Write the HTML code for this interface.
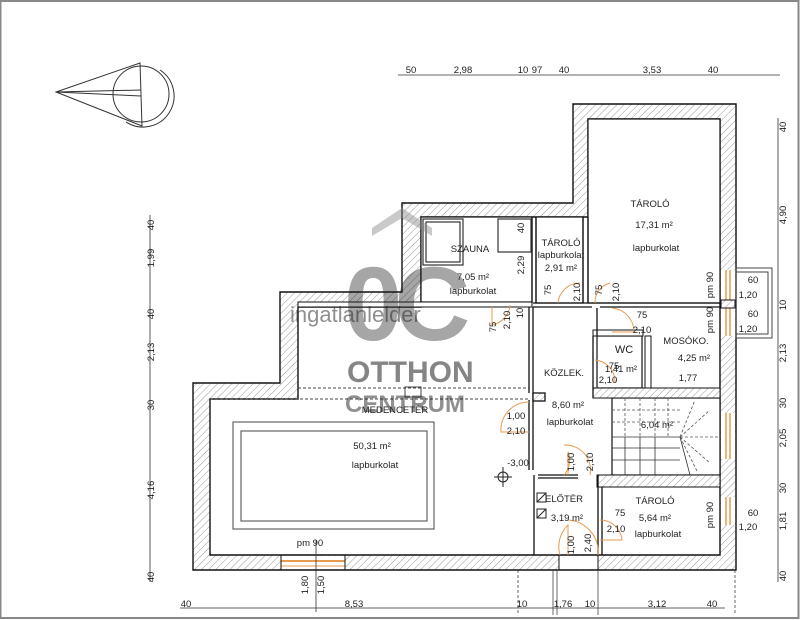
<!DOCTYPE html>
<html><head><meta charset="utf-8"><style>
html,body{margin:0;padding:0;background:#fff}
svg{display:block}
text{font-family:"Liberation Sans",sans-serif;fill:#222}
</style></head><body>
<svg width="800" height="620" viewBox="0 0 800 620" xmlns="http://www.w3.org/2000/svg">
<defs>
<pattern id="h" width="5" height="5" patternUnits="userSpaceOnUse" patternTransform="rotate(45)">
<rect width="5" height="5" fill="#fff"/><line x1="0" y1="0" x2="0" y2="5" stroke="#999" stroke-width="1"/>
</pattern>
</defs>
<rect x="0" y="0" width="800" height="620" fill="#fff"/>
<rect x="0.5" y="1" width="798" height="617" fill="none" stroke="#888" stroke-width="2"/>

<!-- compass -->
<g fill="none" stroke="#333" stroke-width="1">
<path d="M56,92 L140,63 L142,126 Z"/>
<line x1="56" y1="92" x2="141" y2="90"/><line x1="56" y1="92" x2="141" y2="96"/>
<circle cx="141" cy="94" r="28"/>
<path d="M160,70 A30,30 0 1 1 126,122"/>
</g>

<!-- outer walls (hatched) -->
<path fill="url(#h)" stroke="#111" stroke-width="1.4" fill-rule="evenodd"
d="M193,383 L280,383 L280,292 L402,292 L402,203 L573,203 L573,104 L736,104 L736,570 L193,570 Z
   M210,399 L298,399 L298,307 L421,307 L421,217 L588,217 L588,119 L720,119 L720,555 L210,555 Z"/>
<g fill="#fff" stroke="#111" stroke-width="1.2">
<rect x="421" y="217" width="111" height="85"/>
<rect x="536" y="217" width="47" height="86"/>
<rect x="588" y="119" width="132" height="184"/>
<rect x="597" y="336" width="45" height="52"/>
<rect x="612" y="398" width="108" height="77"/>
</g>
<g fill="url(#h)" stroke="#111" stroke-width="1">
<rect x="298" y="302" width="234" height="5" fill="#fff"/>
<rect x="593" y="388" width="127" height="10"/>
<rect x="597" y="475" width="123" height="12"/>
<rect x="593" y="330" width="50" height="6" fill="#fff"/>
<rect x="645" y="336" width="6" height="52" fill="#fff"/>
</g>
<g stroke="#111" stroke-width="1.3" fill="none">
<line x1="532" y1="217" x2="532" y2="303"/><line x1="536" y1="217" x2="536" y2="303"/>
<line x1="583" y1="217" x2="583" y2="303"/><line x1="588" y1="217" x2="588" y2="303"/>
<path d="M529,307 L529,393 M533,307 L533,470 M529,400 L529,470"/>
<rect x="533" y="393" width="12" height="8" fill="url(#h)"/>
<path d="M533,307 L592,307 M600,307 L720,307 M533,303 L720,303"/>
<path d="M593,336 L593,398 M597,308 L597,336"/>
<path d="M534,475 L534,555 M538,475 L578,475 M538,478 L578,478 M598,475 L598,555 M602,487 L602,555"/>
</g>
<rect x="281" y="556" width="64" height="13" fill="#fff"/>
<line x1="281" y1="561" x2="345" y2="561" stroke="#e89a50" stroke-width="2"/>
<line x1="281" y1="566" x2="345" y2="566" stroke="#e89a50" stroke-width="1"/>
<line x1="281" y1="555" x2="281" y2="570" stroke="#111"/><line x1="345" y1="555" x2="345" y2="570" stroke="#111"/>
<rect x="559" y="556" width="39" height="13" fill="#fff"/>
<line x1="559" y1="555" x2="559" y2="570" stroke="#111"/><line x1="598" y1="555" x2="598" y2="570" stroke="#111"/>
<rect x="721" y="270" width="14" height="66" fill="#fff"/>
<rect x="721" y="413" width="14" height="46" fill="#fff"/>
<rect x="721" y="497" width="14" height="28" fill="#fff"/>
<g stroke="#e89a50" stroke-width="1.5">
<line x1="726" y1="270" x2="726" y2="336"/><line x1="730" y1="270" x2="730" y2="336"/>
<line x1="726" y1="413" x2="726" y2="459"/><line x1="730" y1="413" x2="730" y2="459"/>
<line x1="726" y1="497" x2="726" y2="525"/><line x1="730" y1="497" x2="730" y2="525"/>
</g>
<rect x="721" y="300" width="14" height="8" fill="url(#h)" stroke="#111"/>
<g fill="none" stroke="#444" stroke-width="1">
<rect x="736" y="268" width="36" height="70"/><rect x="736" y="272" width="32" height="62"/>
</g>
<g fill="none" stroke="#333" stroke-width="1.2">
<rect x="423" y="219" width="40" height="46"/><rect x="426" y="222" width="34" height="40"/>
<rect x="498" y="219" width="33" height="33"/>
</g>
<g fill="none" stroke="#444" stroke-width="1">
<rect x="233" y="422" width="201" height="107"/><rect x="241" y="431" width="186" height="90"/>
<line x1="298" y1="388" x2="529" y2="388" stroke-dasharray="3,2"/>
<line x1="210" y1="399" x2="529" y2="399" stroke-dasharray="3,2"/>
<rect x="405" y="387" width="16" height="10"/>
</g>
<g stroke="#555" stroke-width="0.8" fill="none">
<path d="M612,437 L680,437 M612,448 L680,448 M612,460 L680,460 M625,437 L625,475 M640,437 L640,475 M655,437 L655,475 M680,437 L690,475" stroke="#333"/>
<path d="M612,410 L680,410 M612,422 L680,422 M625,398 L625,437 M640,398 L640,437 M655,398 L655,437 M668,398 L668,437 M680,437 L710,410 M680,437 L718,437 M680,437 L710,463 M680,437 L695,400 M680,437 L698,473" stroke-dasharray="3,2"/>
</g>
<g fill="none" stroke="#e89a50" stroke-width="1">
<path d="M510,305 A22,22 0 0 1 492,325 L492,307"/>
<path d="M558,303 A22,22 0 0 1 580,283"/>
<path d="M595,303 A20,20 0 0 1 610,283"/>
<path d="M612,308 A24,24 0 0 1 634,332 L612,332"/>
<path d="M595,360 A22,22 0 0 1 615,383"/>
<path d="M529,402 A28,28 0 0 0 501,432 L529,432"/>
<path d="M564,475 A22,22 0 0 0 568,452 L568,475 M590,475 A25,25 0 0 0 564,445"/>
<path d="M600,520 A22,22 0 0 1 622,540 L600,540"/>
<path d="M560,555 A30,30 0 0 1 568,525 L568,555 M598,555 A32,32 0 0 0 568,520"/>
</g>
<g stroke="#444" stroke-width="0.8" fill="none" stroke-dasharray="3,2">
<line x1="518" y1="570" x2="518" y2="615"/><line x1="735" y1="570" x2="735" y2="615"/>
</g>
<g stroke="#444" stroke-width="0.8"><line x1="553" y1="570" x2="553" y2="615"/><line x1="557" y1="570" x2="557" y2="615"/><line x1="598" y1="570" x2="598" y2="615"/></g>
<g fill="none" stroke="#222"><rect x="537" y="493" width="9" height="9"/><rect x="537" y="509" width="9" height="9"/><line x1="537" y1="502" x2="546" y2="493"/><line x1="537" y1="518" x2="546" y2="509"/></g>
<g stroke="#222" fill="none"><circle cx="503" cy="477" r="5"/><line x1="494" y1="477" x2="512" y2="477"/><line x1="503" y1="467" x2="503" y2="487"/></g>

<!-- watermark -->
<g fill="#888" opacity="0.45">
<path d="M372,228 L402,208 L432,228 L432,236 L402,218 L372,236 Z"/>
</g>
<text x="344" y="340" font-size="105" fill="#888" opacity="0.4" font-weight="bold" style="letter-spacing:-8px">0C</text>
<text x="290" y="322" font-size="22" fill="#aaa" opacity="0.5">ingatlanlelder</text>
<text x="347" y="382" font-size="30" fill="#888" opacity="0.55" font-weight="bold">OTTHON</text>
<text x="345" y="412" font-size="24" fill="#888" opacity="0.5" font-weight="bold">CENTRUM</text>

<g font-size="9.5" text-anchor="middle">
<text x="470" y="252">SZAUNA</text>
<text x="473" y="280">7,05 m²</text><text x="473" y="294">lapburkolat</text>
<text x="561" y="246">TÁROLÓ</text><text x="561" y="258">lapburkolat</text><text x="561" y="271">2,91 m²</text>
<text x="650" y="207">TÁROLÓ</text><text x="654" y="228">17,31 m²</text><text x="656" y="251">lapburkolat</text>
<text x="686" y="344">MOSÓKO.</text><text x="694" y="361">4,25 m²</text><text x="688" y="381">1,77</text>
<text x="624" y="353" font-size="11">WC</text><text x="621" y="372">1,41 m²</text>
<text x="564" y="376">KÖZLEK.</text>
<text x="568" y="408">8,60 m²</text><text x="570" y="425">lapburkolat</text>
<text x="657" y="428">6,04 m²</text>
<text x="395" y="413">MEDENCETÉR</text>
<text x="372" y="449">50,31 m²</text><text x="375" y="468">lapburkolat</text>
<text x="564" y="502">ELŐTÉR</text><text x="567" y="521">3,19 m²</text>
<text x="655" y="504">TÁROLÓ</text><text x="655" y="521">5,64 m²</text><text x="658" y="537">lapburkolat</text>
<text x="518" y="466">-3,00</text>
<text x="516" y="419">1,00</text><text x="516" y="434">2,10</text>
<text x="642" y="318">75</text><text x="642" y="333">2,10</text>
<text x="614" y="369">75</text><text x="608" y="383">2,10</text>
<text x="620" y="516">75</text><text x="616" y="532">2,10</text>
<text x="310" y="546">pm 90</text>
<text x="753" y="283">60</text><text x="748" y="298">1,20</text>
<text x="753" y="317">60</text><text x="748" y="332">1,20</text>
<text x="753" y="516">60</text><text x="748" y="530">1,20</text>
</g>
<g font-size="9.5" text-anchor="middle">
<text transform="translate(496,327) rotate(-90)">75</text>
<text transform="translate(510,320) rotate(-90)">2,10</text>
<text transform="translate(523,313) rotate(-90)">10</text>
<text transform="translate(524,265) rotate(-90)">2,29</text>
<text transform="translate(524,228) rotate(-90)">40</text>
<text transform="translate(551,290) rotate(-90)">75</text>
<text transform="translate(580,292) rotate(-90)">2,10</text>
<text transform="translate(602,290) rotate(-90)">75</text>
<text transform="translate(619,292) rotate(-90)">2,10</text>
<text transform="translate(713,285) rotate(-90)">pm 90</text>
<text transform="translate(713,320) rotate(-90)">pm 90</text>
<text transform="translate(713,515) rotate(-90)">pm 90</text>
<text transform="translate(574,462) rotate(-90)">1,00</text>
<text transform="translate(593,462) rotate(-90)">2,10</text>
<text transform="translate(574,545) rotate(-90)">1,00</text>
<text transform="translate(591,543) rotate(-90)">2,40</text>
<text transform="translate(308,585) rotate(-90)">1,80</text>
<text transform="translate(324,585) rotate(-90)">1,50</text>
</g>
<g stroke="#333" stroke-width="0.8">
<line x1="398" y1="75" x2="780" y2="75"/>
<line x1="778" y1="118" x2="778" y2="582"/>
<line x1="150" y1="215" x2="150" y2="582"/>
<line x1="180" y1="608" x2="725" y2="608"/>
<line x1="316" y1="540" x2="316" y2="612"/>
</g>
<g font-size="9.5" text-anchor="middle">
<text x="411" y="73">50</text><text x="463" y="73">2,98</text><text x="523" y="73">10</text><text x="537" y="73">97</text><text x="564" y="73">40</text><text x="652" y="73">3,53</text><text x="713" y="73">40</text>
<text x="186" y="607">40</text><text x="354" y="607">8,53</text><text x="522" y="607">10</text><text x="563" y="607">1,76</text><text x="590" y="607">10</text><text x="657" y="607">3,12</text><text x="712" y="607">40</text>
</g>
<g font-size="9.5" text-anchor="middle">
<text transform="translate(786,127) rotate(-90)">40</text>
<text transform="translate(786,215) rotate(-90)">4,90</text>
<text transform="translate(786,305) rotate(-90)">10</text>
<text transform="translate(786,353) rotate(-90)">2,13</text>
<text transform="translate(786,403) rotate(-90)">30</text>
<text transform="translate(786,438) rotate(-90)">2,05</text>
<text transform="translate(786,488) rotate(-90)">30</text>
<text transform="translate(786,521) rotate(-90)">1,81</text>
<text transform="translate(786,576) rotate(-90)">40</text>
<text transform="translate(154,225) rotate(-90)">40</text>
<text transform="translate(154,258) rotate(-90)">1,99</text>
<text transform="translate(154,314) rotate(-90)">40</text>
<text transform="translate(154,352) rotate(-90)">2,13</text>
<text transform="translate(154,405) rotate(-90)">30</text>
<text transform="translate(154,490) rotate(-90)">4,16</text>
<text transform="translate(154,577) rotate(-90)">40</text>
</g>
</svg>
</body></html>
